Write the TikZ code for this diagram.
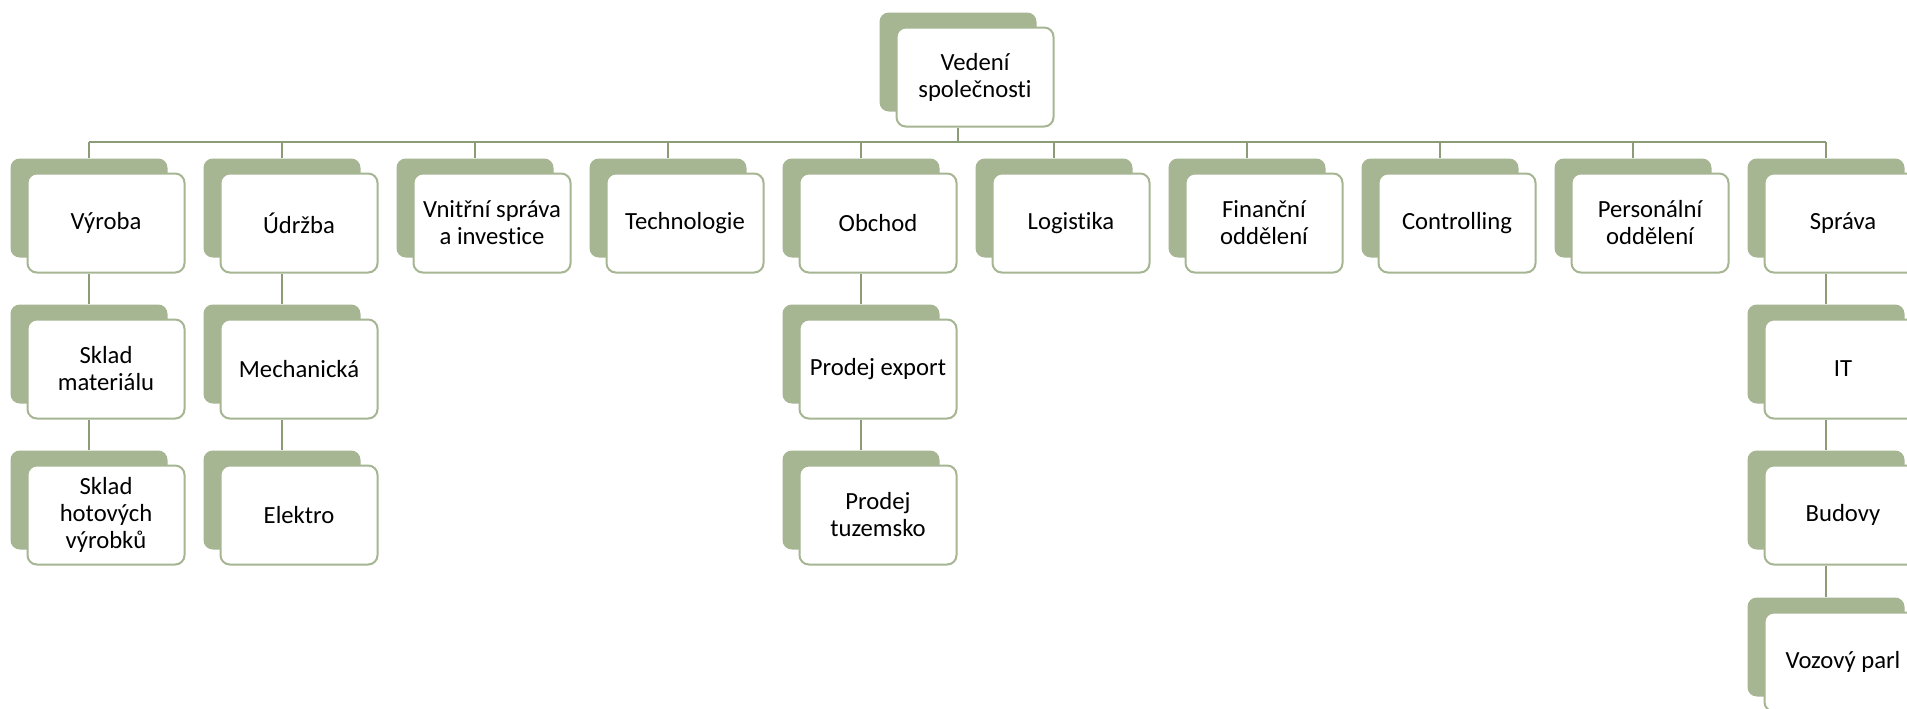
\documentclass[tikz,border=0pt]{standalone}
\usepackage{fontspec}
\setmainfont[Ligatures=NoCommon]{Carlito}
\usetikzlibrary{calc}
\definecolor{boxgreen}{RGB}{166,181,146}
\definecolor{linegreen}{RGB}{140,156,118}
\tikzset{
  backcard/.style={draw=none, fill=boxgreen, rounded corners=7pt,
    minimum width=117.75pt, minimum height=74.25pt, inner sep=0pt},
  frontcard/.style={draw=boxgreen, line width=1.5pt, fill=white, rounded corners=7pt,
    minimum width=117.75pt, minimum height=74.25pt, inner sep=2pt,
    align=center, font=\fontsize{18.5}{20.25}\selectfont},
  link/.style={draw=linegreen, line width=1.8pt}
}
% one org-chart card: back card offset up-left, white card in front
\newcommand\orgcard[4]{%
  \node[backcard] (#1s) at (#2-17,#3-15) {};
  \node[frontcard] (#1) at (#2,#3) {#4};}
\begin{document}
\begin{tikzpicture}[x=0.75pt,y=-0.75pt]
\useasboundingbox (0,0) rectangle (1907,708);
\clip (0,0) rectangle (1907,708);
\fill[white] (0,0) rectangle (1907,708);

% top
\orgcard{ved}{975}{77}{Vedení\\společnosti}
% first level
\orgcard{vyr}{106}{223}{Výroba}
\orgcard{udr}{299}{223}{Údržba}
\orgcard{vni}{492}{223}{Vnitřní správa\\a investice}
\orgcard{tec}{685}{223}{Technologie}
\orgcard{obc}{878}{223}{Obchod}
\orgcard{log}{1071}{223}{Logistika}
\orgcard{fin}{1264}{223}{Finanční\\oddělení}
\orgcard{con}{1457}{223}{Controlling}
\orgcard{per}{1650}{223}{Personální\\oddělení}
\orgcard{spr}{1843}{223}{Správa}
% second level and below
\orgcard{skm}{106}{369}{Sklad\\materiálu}
\orgcard{skh}{106}{515}{Sklad\\hotových\\výrobků}
\orgcard{mec}{299}{369}{Mechanická}
\orgcard{ele}{299}{515}{Elektro}
\orgcard{pex}{878}{369}{Prodej export}
\orgcard{ptu}{878}{515}{Prodej\\tuzemsko}
\orgcard{it}{1843}{369}{IT}
\orgcard{bud}{1843}{515}{Budovy}
\orgcard{voz}{1843}{662}{Vozový parl}

% bus line under the top card
\coordinate (bus) at (958,142);
\draw[link] (ved.south -| veds.center) -- (veds.center |- bus);
\draw[link] (vyrs.north |- bus) -- (sprs.north |- bus);
\foreach \n in {vyr,udr,vni,tec,obc,log,fin,con,per,spr}
  \draw[link] (\n s.north |- bus) -- (\n s.north);
% vertical chains
\draw[link] (vyr.south -| vyrs.center) -- (skms.north);
\draw[link] (skm.south -| skms.center) -- (skhs.north);
\draw[link] (udr.south -| udrs.center) -- (mecs.north);
\draw[link] (mec.south -| mecs.center) -- (eles.north);
\draw[link] (obc.south -| obcs.center) -- (pexs.north);
\draw[link] (pex.south -| pexs.center) -- (ptus.north);
\draw[link] (spr.south -| sprs.center) -- (its.north);
\draw[link] (it.south -| its.center) -- (buds.north);
\draw[link] (bud.south -| buds.center) -- (vozs.north);
\end{tikzpicture}
\end{document}
